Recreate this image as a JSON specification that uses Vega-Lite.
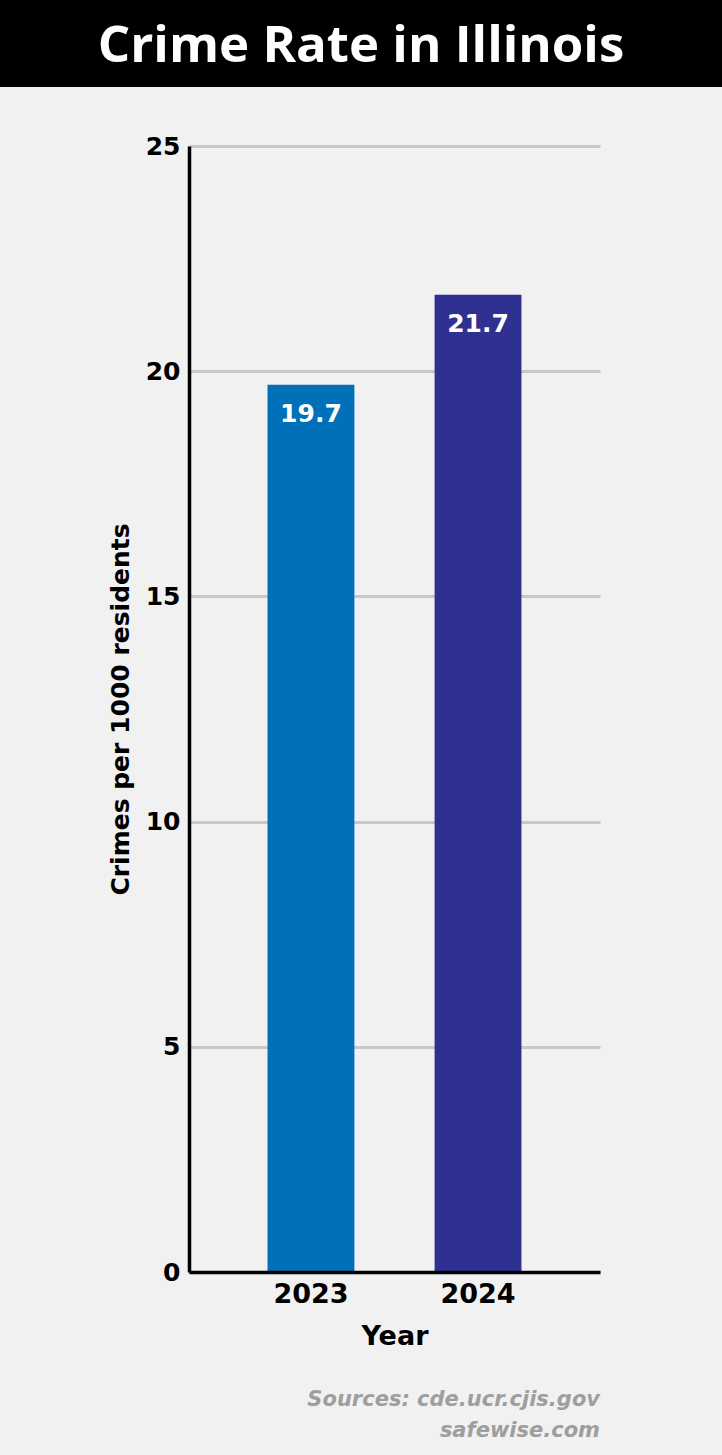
{
  "$schema": "https://vega.github.io/schema/vega-lite/v6.json",
  "padding": {"left": 0, "top": 0, "right": 0, "bottom": 14},
  "background": "#f1f1f1",
  "spacing": 47,
  "config": {"view": {"stroke": null}, "font": "DejaVu Sans"},
  "vconcat": [
    {
      "width": 722,
      "height": 87,
      "view": {"fill": "#000000", "stroke": null},
      "data": {"values": [{"t": "Crime Rate in Illinois"}]},
      "mark": {"type": "text", "color": "#ffffff", "font": "Open Sans", "fontSize": 51, "fontWeight": 700, "baseline": "middle", "align": "center", "dy": 3},
      "encoding": {"text": {"field": "t"}}
    },
    {
      "spacing": 0,
      "hconcat": [
        {
          "width": 108,
          "height": 10,
          "view": {"fill": "#f1f1f1", "stroke": null},
          "data": {"values": []},
          "mark": "point",
          "encoding": {}
        },
        {
          "width": 411,
          "height": 1126,
          "data": {"values": [
            {"year": "2023", "rate": 19.7},
            {"year": "2024", "rate": 21.7}
          ]},
          "title": {
            "text": ["Sources: cde.ucr.cjis.gov", "safewise.com"],
            "orient": "bottom",
            "anchor": "end",
            "frame": "group",
            "color": "#9e9e9e",
            "font": "DejaVu Sans",
            "fontSize": 21,
            "fontWeight": "bold",
            "fontStyle": "italic",
            "lineHeight": 31,
            "offset": 40
          },
          "encoding": {
            "x": {
              "field": "year",
              "type": "nominal",
              "scale": {"paddingInner": 0.48, "paddingOuter": 0.47},
              "axis": {
                "title": "Year",
                "labelAngle": 0,
                "ticks": false,
                "zindex": 1,
                "domainColor": "#000000",
                "domainWidth": 3.5,
                "labelFont": "DejaVu Sans",
                "labelFontSize": 27,
                "labelFontWeight": "bold",
                "labelColor": "#000000",
                "labelPadding": 9,
                "titleFont": "DejaVu Sans",
                "titleFontSize": 27,
                "titleFontWeight": "bold",
                "titleColor": "#000000",
                "titlePadding": 16
              }
            },
            "y": {
              "field": "rate",
              "type": "quantitative",
              "scale": {"domain": [0, 25], "nice": false},
              "axis": {
                "title": "Crimes per 1000 residents",
                "values": [0, 5, 10, 15, 20, 25],
                "ticks": false,
                "domainColor": "#000000",
                "domainWidth": 3.5,
                "gridColor": "#c8c8c8",
                "gridWidth": 3,
                "labelFont": "DejaVu Sans",
                "labelFontSize": 25,
                "labelFontWeight": "bold",
                "labelColor": "#000000",
                "labelPadding": 9,
                "titleFont": "DejaVu Sans",
                "titleFontSize": 25,
                "titleFontWeight": "bold",
                "titleColor": "#000000",
                "titlePadding": 12
              }
            }
          },
          "layer": [
            {
              "mark": {"type": "bar"},
              "encoding": {
                "color": {
                  "field": "year",
                  "type": "nominal",
                  "scale": {"domain": ["2023", "2024"], "range": ["#0070b8", "#2e3192"]},
                  "legend": null
                }
              }
            },
            {
              "mark": {"type": "text", "baseline": "top", "dy": 17, "color": "#ffffff", "font": "DejaVu Sans", "fontSize": 25, "fontWeight": "bold"},
              "encoding": {"text": {"field": "rate", "type": "quantitative", "format": ".1f"}}
            }
          ]
        }
      ]
    }
  ]
}
